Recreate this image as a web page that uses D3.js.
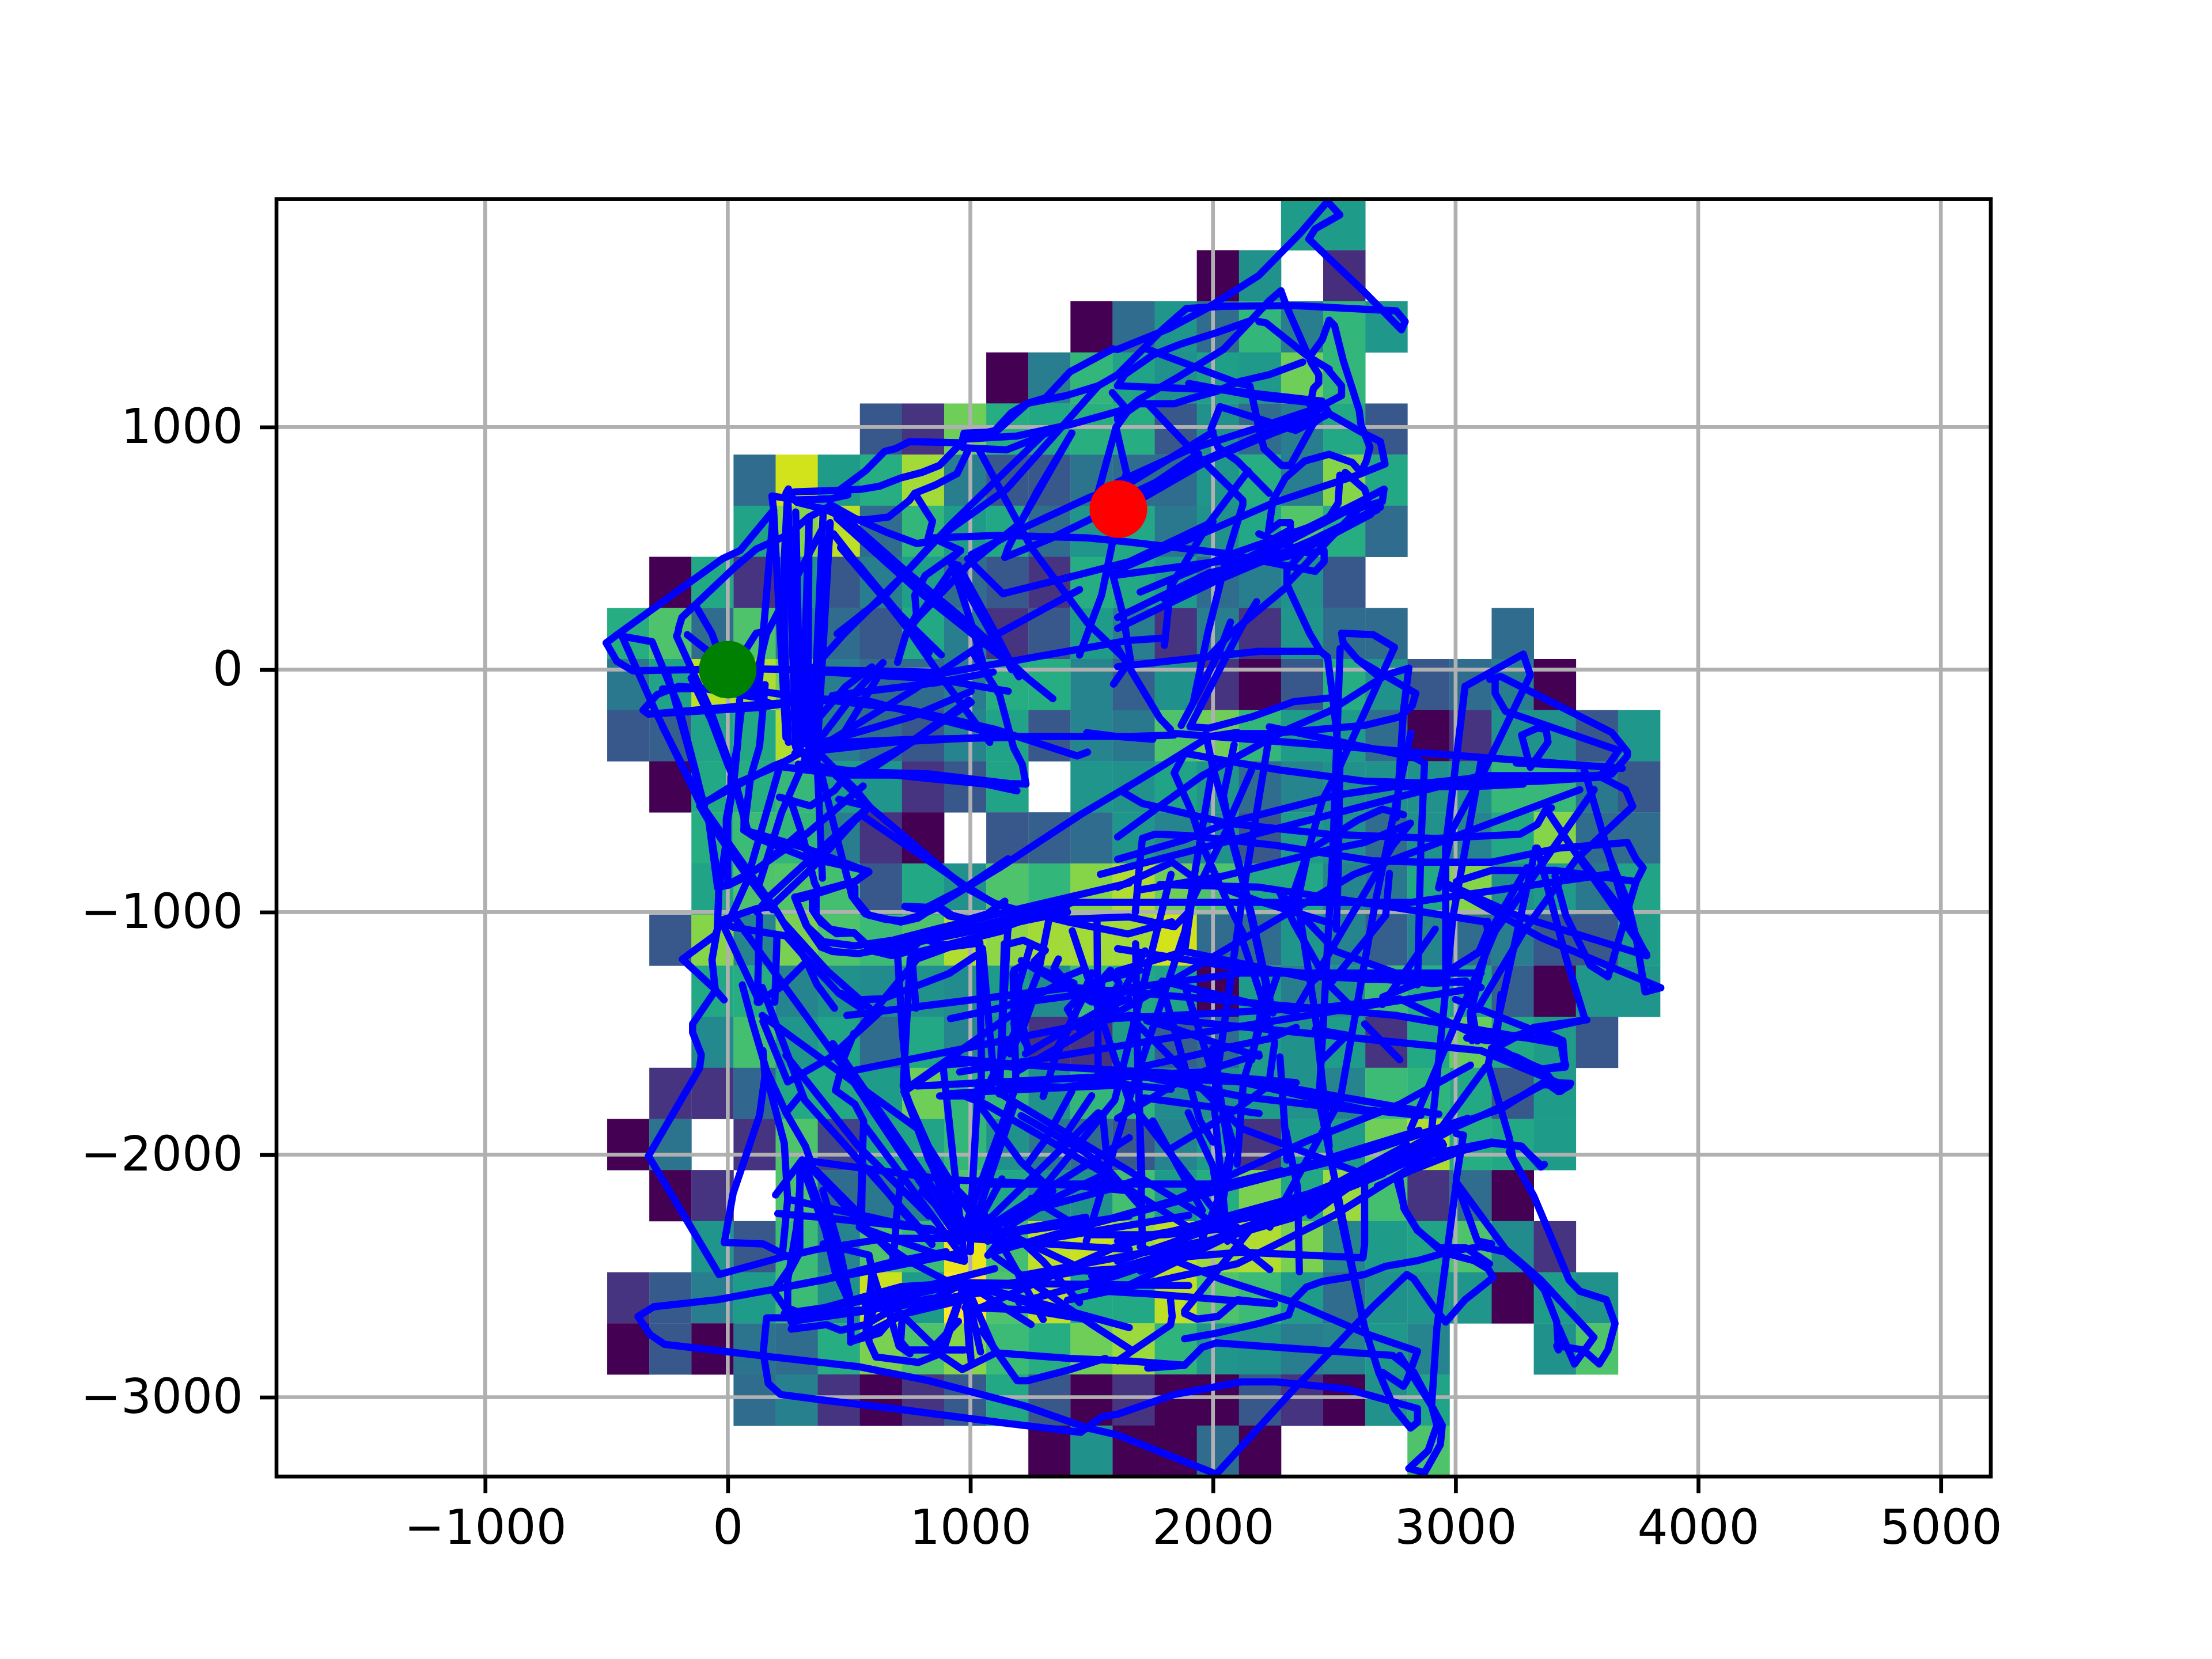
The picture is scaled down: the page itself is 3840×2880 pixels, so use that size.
<!DOCTYPE html>
<html><head><meta charset="utf-8">
<style>html,body{margin:0;padding:0;background:#fff}svg{display:block}text{font-family:"DejaVu Sans";}</style>
<script src="https://cdn.jsdelivr.net/npm/d3@7"></script></head>
<body><svg id="c" width="3840" height="2880"></svg>
<script>
const _ = null;
const xTicks = [-1000,0,1000,2000,3000,4000,5000];
const yTicks = [-3000,-2000,-1000,0,1000];
const xDomain = [-1860,5206];
const yDomain = [-3327,1940];
const gridX0 = -497, gridXStep = 173.6, gridYTop = 1940, gridYStep = 210.7;
const startPoint = [0,0];
const endPoint = [1610,662];
const cellRows = [
[_,_,_,_,_,_,_,_,_,_,_,_,_,_,_,_,55,55,_,_,_,_,_,_,_],
[_,_,_,_,_,_,_,_,_,_,_,_,_,_,0,50,_,13,_,_,_,_,_,_,_],
[_,_,_,_,_,_,_,_,_,_,_,0,35,52,35,66,42,66,53,_,_,_,_,_,_],
[_,_,_,_,_,_,_,_,_,0,42,66,58,50,56,54,78,66,_,_,_,_,_,_,_],
[_,_,_,_,_,_,27,15,78,62,60,63,62,27,50,35,42,60,27,_,_,_,_,_,_],
[_,_,_,35,93,55,62,86,42,27,27,38,35,35,52,62,42,82,60,_,_,_,_,_,_],
[_,_,_,58,82,90,35,66,55,60,35,52,60,40,50,60,73,62,35,_,_,_,_,_,_],
[_,0,60,15,50,27,42,56,35,27,15,62,60,55,35,42,50,27,_,_,_,_,_,_,_],
[62,72,35,72,42,35,27,60,42,15,27,55,42,15,42,15,52,35,35,_,_,35,_,_,_],
[40,58,90,88,78,42,35,35,42,62,62,45,30,50,15,0,27,62,50,27,35,42,0,_,_],
[27,30,58,60,88,42,35,27,45,58,27,45,40,72,78,66,55,55,35,0,15,50,50,27,53],
[_,0,60,62,67,55,52,15,27,58,_,52,50,58,52,35,45,50,50,50,50,67,67,40,27],
[_,_,62,68,66,42,15,0,_,27,30,35,52,45,50,27,55,50,35,50,45,60,82,35,35],
[_,_,58,72,73,70,27,60,50,72,66,82,88,78,72,60,60,45,40,60,82,50,55,40,58],
[_,27,82,45,80,72,68,72,88,83,86,86,86,93,35,35,52,45,30,45,35,42,27,27,55],
[_,_,60,62,45,50,48,50,48,55,48,68,60,58,0,55,42,50,68,62,58,30,0,52,52],
[_,_,47,70,52,58,35,60,45,50,15,15,55,30,35,55,50,55,15,60,77,60,55,27,_],
[_,15,15,33,60,60,55,78,66,66,50,66,65,48,50,55,50,45,68,65,60,27,55,_,_],
[0,38,_,15,72,20,58,58,66,50,40,35,27,45,55,15,55,55,78,88,62,60,55,_,_],
[_,0,15,_,72,35,40,45,72,60,50,50,70,55,62,80,60,85,70,15,35,0,_,_,_],
[_,_,52,27,68,45,72,68,97,70,90,92,85,90,85,88,80,45,55,58,72,48,15,_,_],
[15,28,42,55,68,50,92,55,100,72,90,60,60,90,72,68,55,35,50,52,52,0,55,50,_],
[0,27,0,38,35,62,80,72,82,68,62,78,85,65,52,50,42,45,53,45,_,_,50,72,_],
[_,_,_,35,43,15,0,15,28,60,27,0,15,0,0,27,15,0,50,58,_,_,_,_,_],
[_,_,_,_,_,_,_,_,_,_,0,50,0,0,35,0,_,_,_,72,_,_,_,_,_]
];
const trackTop = [
[[1607,1320],[1818,1406],[1971,1487],[2189,1625],[2363,1803],[2472,1930],[2523,1875],[2421,1817],[2395,1775],[2625,1556],[2777,1401],[2792,1435],[2756,1479],[2334,1501],[2043,1498],[1891,1489],[1796,1406],[1716,1326],[1607,1216],[1527,1170],[1396,1130],[1236,1098],[1105,980],[974,975],[967,945],[945,917],[873,842],[800,813],[713,790],[625,756],[553,744],[451,739],[284,733],[240,727],[250,745]],
[[1607,1320],[1587,1322],[1411,1228],[1310,1120],[1236,1098],[1170,1060],[1100,985],[970,958]],
[[970,950],[1192,963],[1324,992],[1411,1010],[1655,1078]],
[[970,935],[749,940],[691,911],[647,900],[567,819],[451,733]],
[[970,915],[1149,906],[1251,946],[1324,980]],
[[989,900],[945,808],[858,762],[771,727],[749,698],[662,629],[567,618],[495,618],[405,660],[285,690],[247,725]],
[[422,681],[524,624],[655,566],[778,520],[822,526],[844,612],[814,658],[771,727]],
[[-501,110],[-450,148],[-22,457],[51,491],[189,658],[182,716],[280,700],[422,704],[495,720]],
[[-203,169],[-189,215],[29,422],[117,497],[247,555],[335,629],[422,675]],
[[247,733],[233,457],[233,148],[250,-300]],
[[189,658],[146,148],[125,-120]],
[[335,629],[320,148],[310,-200]],
[[422,606],[393,148],[330,-200]],
[[400,600],[160,148],[105,-80]],
[[422,680],[742,399],[1018,169],[1230,-30]],
[[450,625],[790,320],[1105,70],[1340,-120]],
[[436,560],[757,148],[880,-30],[1080,-300]],
[[-131,261],[-65,148],[-20,20]],
[[844,543],[1120,554],[1483,543],[1655,526],[2043,480],[2421,405],[2458,445],[2458,491],[2392,480],[2189,560]],
[[844,543],[960,491],[913,450],[1062,192],[1200,-30]],
[[1004,474],[1193,572],[1491,710],[1655,768],[1870,900],[2000,980]],
[[1142,463],[1156,503],[1207,606],[1280,744],[1418,975]],
[[1142,463],[1323,537],[1655,698],[1850,830],[1940,890]],
[[989,457],[1134,313],[1411,382],[1655,445],[2000,610]],
[[1033,911],[1251,503],[1483,192],[1640,40]],
[[1585,1142],[1650,1067],[1600,998],[1527,733]],
[[1600,998],[1643,813],[1620,700]],
[[1585,520],[1541,307],[1498,192],[1450,60]],
[[1585,399],[1629,227],[1660,40],[1590,-60]],
[[1324,992],[916,595],[756,422],[480,148],[285,-70]],
[[1527,1170],[1149,744],[858,537],[640,296],[451,148]],
[[1418,975],[1207,606],[989,430],[771,200]],
[[960,491],[814,388],[771,307],[778,227],[735,148],[700,30]],
[[938,434],[1062,192],[1170,0]],
[[950,430],[1105,148],[1180,0]],
[[925,434],[1003,192],[1060,0]],
[[938,434],[800,238],[735,148]],
[[538,434],[756,169],[830,70]],
[[465,503],[655,280],[880,60]],
[[1716,1326],[2101,1182],[2152,1170],[2189,998],[2210,911],[2283,842],[2319,842],[2414,1015],[2472,1061]],
[[2472,1239],[2530,1170],[2530,1130],[2465,1096],[2220,1120],[1900,1180]],
[[1607,1170],[2043,1153],[2450,1107],[2479,1055],[2610,980],[2690,940],[2709,848],[2596,802],[2247,687],[2094,620],[1607,410]],
[[2399,1291],[2450,1360],[2479,1441],[2501,1418],[2537,1274],[2574,1159],[2603,1067],[2610,1009],[2647,917],[2632,860],[2610,813],[2574,854],[2479,888],[2378,860],[2298,790],[2247,698],[2229,572],[2276,606],[2319,606],[2319,577],[2203,514]],
[[2280,1562],[2232,1521],[2152,1435],[2043,1320],[1854,1205],[1694,1113],[1607,1040]],
[[2280,1562],[2305,1493],[2407,1262],[2436,1216],[2436,1182],[2414,1159],[2400,1090]],
[[2189,1435],[2218,1430],[2392,1291],[2479,1239]],
[[2145,1435],[2014,1389],[1869,1343],[1752,1297],[1636,1216],[1607,1170]],
[[2370,1268],[2232,1216],[2109,1188],[2014,1147],[1912,1119],[1840,1096],[1694,1096],[1636,1055],[1607,1030]],
[[2029,1084],[1992,992],[2021,917],[2101,860],[2232,727]],
[[2029,1084],[2341,986],[2479,1055]],
[[1731,1096],[1912,906],[2123,698],[2123,680],[2058,468],[1978,148],[1920,-130]],
[[2145,819],[1985,606],[1825,342],[1800,100]],
[[1607,773],[1898,906],[2189,998],[2465,1090]],
[[1607,698],[1927,848],[2189,963],[2450,1080]],
[[1694,698],[1985,865],[2247,975],[2436,1045]],
[[2523,802],[2516,687],[2479,629],[2436,601],[2087,480],[1700,320]],
[[2545,813],[2625,744],[2639,704],[2479,537],[2305,353],[2319,320],[2399,148],[2443,75]],
[[2705,744],[2698,693],[2537,647],[2200,470],[1607,390]],
[[2705,744],[2596,687],[2300,540],[1800,290]],
[[2676,658],[2465,560],[2392,509],[2305,411],[2305,342],[2072,148],[1990,60]],
[[1607,215],[1985,399],[2334,473],[2650,640]],
[[1607,170],[2000,360],[2400,530],[2690,670]]
];
const trackMiddle = [
[[-501,110],[-458,35],[-392,-5],[-145,0],[0,5],[582,-5],[902,-12],[1200,40],[1650,120],[1800,130]],
[[-436,138],[-312,115],[-203,-149],[-131,-426],[-102,-552]],
[[-436,138],[-298,-172],[-109,-564],[-80,-610],[-36,-886],[-43,-1070],[-65,-1197],[-51,-1323],[-145,-1461],[-145,-1496],[-109,-1588],[-116,-1643],[-327,-2005],[-36,-2494],[233,-2420],[247,-2419]],
[[-349,-167],[-291,-103],[-203,-69],[-116,-75],[117,-115],[175,-140]],
[[-349,-167],[-327,-184],[124,-144],[422,-126],[756,-167],[1105,-247],[1440,-356],[1483,-340]],
[[-203,161],[-211,138],[-72,-167],[0,-368],[44,-529],[80,-656]],
[[-167,144],[-80,75]],
[[73,81],[117,150],[160,160]],
[[58,-149],[44,-265],[29,-426],[0,-621],[0,-886],[131,-817],[291,-679]],
[[-102,-552],[189,-397],[233,-380],[306,-340]],
[[66,-661],[320,-736],[582,-834],[524,-874],[306,-944],[277,-938],[327,-1059],[393,-1122],[524,-1139],[684,-1115],[858,-1070],[1142,-1000],[1655,-880]],
[[524,-897],[524,-943],[582,-1013],[713,-1041],[785,-1024],[873,-966],[1120,-817],[1454,-598],[1655,-479]],
[[734,-978],[807,-995],[873,-978],[924,-1013],[989,-1030],[1062,-1013],[1142,-955]],
[[364,-938],[364,-1013],[422,-1070],[524,-1088],[604,-1162],[676,-1179],[749,-1162],[807,-1105],[902,-1145],[1033,-1128]],
[[604,-1150],[829,-1105],[1120,-1036],[1411,-955]],
[[582,-564],[975,-897],[1105,-966],[1193,-990],[1400,-1040],[1650,-1090],[1830,-1040]],
[[582,-564],[495,-483],[422,-414],[291,-390]],
[[582,-564],[451,-679],[175,-932],[120,-1000]],
[[1192,-500],[1062,-472],[829,-449],[480,-414],[306,-390]],
[[1229,-472],[1214,-391],[1178,-322],[1120,-103],[1018,57]],
[[277,-345],[684,-299],[1120,-276],[1655,-276],[1840,-270]],
[[1229,-472],[1160,-470],[829,-430],[480,-420]],
[[375,-322],[771,-80],[1100,140],[1450,330]],
[[2530,150],[2661,144],[2748,92],[2690,-34],[2596,41],[2537,110],[2530,150]],
[[2690,-34],[2516,-414],[2450,-541],[2392,-748],[2349,-955],[2421,-1416],[2436,-1560]],
[[1607,12],[1970,52],[2189,75],[2443,75],[2472,52],[2494,-115],[2523,-391],[2516,-840],[2508,-1070]],
[[2501,-115],[2334,-132],[2159,-195],[1985,-241],[1905,-236],[2116,173],[2180,280]],
[[1869,-230],[1912,-149],[2029,81],[2072,196]],
[[1825,-247],[1781,-201],[1600,100]],
[[1752,-287],[1607,-276],[1480,-260]],
[[2596,41],[2836,-98],[2821,-149],[2770,-195],[2625,-230],[2232,-264],[2101,-264]],
[[2807,6],[2785,-172],[2756,-610]],
[[2807,6],[2712,-23],[2479,-172],[2305,-247],[1956,-437],[1796,-552],[1607,-690]],
[[2232,-236],[2828,-362],[2872,-385],[2857,-725],[2843,-1300]],
[[3039,-69],[3279,64],[3308,-23],[3119,-414],[2988,-656],[2930,-900]],
[[3039,-69],[2996,-426],[2959,-725],[2959,-1300]],
[[3141,-40],[3185,-28],[3643,-259],[3708,-339],[3708,-356],[3643,-431],[3439,-449],[3148,-440],[2860,-470]],
[[3163,-40],[3163,-98],[3206,-172],[3672,-333],[3599,-437]],
[[3272,-270],[3337,-241],[3373,-247],[3381,-299],[3308,-403],[3272,-270]],
[[3250,-385],[3526,-397],[3701,-1001]],
[[3599,-443],[3701,-495],[3730,-564],[3497,-782],[3280,-1080],[3090,-1400]],
[[1629,-495],[1781,-403],[1985,-276],[2101,-259]],
[[1629,-505],[1709,-552],[1811,-575],[2058,-633],[2479,-679],[2916,-696],[3265,-679],[3337,-638],[3373,-575],[3395,-570]],
[[1883,-345],[2043,-374],[2276,-414],[2625,-460],[3003,-472],[3352,-460],[3599,-443]],
[[1883,-345],[1840,-426],[1912,-587],[1956,-725],[2058,-955],[2130,-1100]],
[[1709,-696],[1760,-679],[1898,-684],[2261,-725],[2654,-788],[2857,-794],[3148,-794],[3425,-736],[3708,-713],[3744,-782],[3773,-817],[3744,-874],[3410,-828],[3148,-828],[3003,-874]],
[[1709,-696],[1694,-840],[1680,-1001]],
[[1607,-782],[1883,-702],[2058,-633],[2508,-518],[2741,-483],[3061,-483],[3279,-472]],
[[1832,-794],[1607,-897]],
[[1832,-794],[1919,-857],[2189,-955],[2500,-1050]],
[[2785,-598],[2698,-575],[2596,-621],[2392,-748],[2320,-955]],
[[2814,-633],[2625,-713],[2479,-742],[2043,-851],[1694,-909]],
[[2814,-633],[2741,-725],[2537,-1070],[2334,-1416]],
[[2727,-840],[2712,-1013],[2479,-1300]],
[[2945,-875],[3250,-1013],[3788,-1180],[3730,-1070],[3657,-955],[3512,-771]],
[[3373,-575],[3497,-759],[3715,-1070],[3788,-1175]],
[[2974,-897],[3352,-1105],[3846,-1312],[3781,-1329],[3744,-1105],[3708,-955],[3607,-702]],
[[3628,-1266],[3555,-1220],[3454,-1013],[3410,-851]],
[[3628,-1266],[3686,-1070],[3744,-874]],
[[3534,-1444],[3454,-1185],[3337,-736]],
[[3534,-1444],[3148,-1531],[3046,-1519]],
[[3330,-736],[3206,-1300],[3163,-1496]],
[[3294,-817],[3148,-1070],[3061,-1416],[3068,-1530]],
[[3000,-1360],[3432,-1531],[3446,-1609],[3454,-1631],[3352,-1648],[3250,-1597],[3148,-1562]],
[[2058,-633],[2130,-897],[2218,-1300],[2160,-1609]],
[[1970,-264],[1999,-403],[2065,-633],[2160,-1013],[2247,-1416]],
[[2087,-310],[2043,-518],[2065,-644],[1985,-805],[1912,-955],[1883,-1162]],
[[2159,-414],[2058,-644]],
[[2276,-920],[2334,-1047],[2479,-1300],[2596,-1416]],
[[2276,-920],[2508,-1162],[2857,-1289],[3046,-1289],[3090,-1531]],
[[3126,-1041],[2770,-984],[2189,-897],[1781,-886]],
[[3126,-1041],[3134,-1082],[3097,-1162],[2916,-1277],[2625,-1277],[2043,-1220],[1607,-1151]],
[[1607,-1243],[1883,-1162],[2421,-1277]],
[[1607,-1438],[2465,-1392],[2770,-1358],[3061,-1496],[3425,-1531]],
[[2421,-1484],[2552,-1507],[2450,-1609]],
[[2698,-1381],[2916,-1070]],
[[2625,-1461],[2770,-1609]],
[[1700,-1240],[1500,-1290],[1400,-1400],[1460,-1500],[1600,-1380],[1720,-1160]],
[[1395,-980],[1380,-1030],[1655,-1020],[1840,-1060],[1900,-1000]],
[[1250,-1130],[1200,-1300],[1180,-1460],[1240,-1560]],
[[1210,-1200],[1260,-1230],[1500,-1370],[1700,-1300]],
[[1500,-1250],[1420,-1450],[1350,-1600],[1300,-1760]],
[[1330,-1000],[1280,-1250],[1180,-1500],[1070,-1720]],
[[700,-1180],[720,-1500],[740,-1700]],
[[1050,-1150],[1080,-1500],[1100,-1700]],
[[1140,-1130],[1130,-1480],[1120,-1750]]
];
const trackBottom = [
[[3475,-1706],[3366,-1700],[3192,-1809],[2945,-1896],[2690,-2040],[2400,-2250]],
[[3468,-1717],[3424,-1740],[3366,-1700]],
[[3366,-2040],[3352,-2051],[3272,-1965],[3148,-1948],[2945,-1988],[2625,-2070],[2300,-2200]],
[[3221,-1988],[3323,-2172],[3468,-2517],[3512,-2563],[3621,-2598],[3657,-2696],[3628,-2805],[3592,-2863],[3526,-2805],[3417,-2788],[3424,-2805],[3417,-2690],[3366,-2558],[3279,-2460],[3206,-2402],[3105,-2379],[3032,-2390],[2945,-2408],[2843,-2437],[2712,-2460],[2625,-2494],[2450,-2523],[2385,-2546],[2334,-2598],[2312,-2661],[2189,-2696],[2014,-2736],[1883,-2759]],
[[3148,-1562],[3134,-1631],[3221,-1930],[3235,-2010]],
[[3003,-2114],[3206,-2390],[3352,-2517],[3570,-2753],[3490,-2863],[3425,-2713]],
[[3003,-2114],[3090,-2356],[3148,-2368]],
[[3003,-2114],[2923,-2713],[2901,-3035],[2945,-3116],[2937,-3196],[2872,-3311],[2807,-3294],[2887,-3220],[2923,-3116],[2901,-3035],[2770,-2828]],
[[3003,-2100],[3032,-1919],[3003,-1913]],
[[2755,-2091],[2792,-2230],[2843,-2310],[2945,-2402],[3076,-2437],[3134,-2471],[3155,-2506],[3039,-2598],[2959,-2690],[2908,-2627],[2828,-2512],[2799,-2494],[2654,-2632],[2479,-2817],[2334,-2966],[2014,-3317]],
[[2014,-3317],[1607,-3156],[1483,-3127],[1221,-3035],[829,-2932],[538,-2874],[131,-2828],[-261,-2782],[-320,-2742],[-370,-2667],[-305,-2627],[-43,-2598],[175,-2558],[393,-2517],[654,-2448],[900,-2400]],
[[1607,-3070],[1840,-2989],[2116,-2937],[2261,-2937],[2552,-2966],[2843,-3047],[2843,-3104],[2814,-3127],[2748,-3047],[2683,-2897],[2625,-2713],[2537,-2310],[2494,-2114]],
[[1607,-3070],[1542,-3081],[1454,-3145],[1120,-3104],[684,-3047],[393,-3012],[218,-2989],[167,-2943],[146,-2817],[160,-2673],[247,-2673],[684,-2627],[1100,-2560]],
[[1731,-2880],[1883,-2868],[1956,-2794],[2014,-2776],[2334,-2799],[2741,-2828],[2828,-2897],[2901,-3035]],
[[2843,-2811],[2625,-2736],[2334,-2610],[2043,-2517],[1700,-2380]],
[[2843,-2811],[2799,-2932],[2785,-2955],[2698,-2897]],
[[1883,-2655],[1934,-2678],[2021,-2667],[2101,-2598],[2254,-2615],[1752,-2575],[1500,-2560]],
[[1883,-2645],[2014,-2483],[2200,-2250]],
[[1607,-2850],[1825,-2702],[1832,-2667],[1825,-2598]],
[[2625,-2114],[2625,-2368],[2618,-2425],[2116,-2402],[1900,-2420]],
[[2356,-2483],[2349,-2137],[2300,-1900]],
[[-14,-2362],[22,-2160],[131,-1838],[153,-1677],[145,-1570]],
[[-14,-2362],[146,-2368],[247,-2419],[364,-2391],[654,-2345],[975,-2345]],
[[197,-2166],[306,-2022],[902,-2103],[1411,-2126],[1655,-2149]],
[[240,-1827],[160,-1654],[100,-1450],[60,-1300]],
[[240,-1827],[320,-1965],[356,-2068],[509,-2241],[720,-2450]],
[[225,-2413],[247,-2184],[233,-1953],[160,-1677]],
[[306,-2022],[284,-2299],[247,-2517],[247,-2632],[306,-2655],[684,-2575],[1100,-2470]],
[[306,-2045],[451,-2448],[502,-2575],[509,-2770],[625,-2736],[684,-2667],[829,-2632],[975,-2598]],
[[320,-2045],[393,-2253],[495,-2575]],
[[262,-2719],[407,-2701],[465,-2724],[567,-2701],[669,-2644],[800,-2560]],
[[247,-2419],[276,-2437],[189,-2563],[276,-2690],[262,-2719]],
[[611,-2834],[582,-2771],[582,-2690],[625,-2575],[596,-2483],[582,-2414],[393,-2368]],
[[611,-2834],[786,-2857],[873,-2822],[967,-2886],[1105,-2817],[1411,-2840],[1655,-2851],[1883,-2868]],
[[1047,-2725],[1193,-2932],[1236,-2932],[1411,-2886],[1556,-2840]],
[[720,-2655],[713,-2770],[742,-2805],[975,-2805]],
[[545,-2299],[560,-1861],[524,-1792],[444,-1735],[480,-1597],[520,-1500]],
[[545,-2299],[873,-2414],[975,-2440]],
[[306,-1746],[240,-1827]],
[[145,-1450],[247,-1700],[421,-1600],[640,-1400]],
[[240,-1590],[538,-1965],[829,-2253]],
[[727,-1740],[887,-1631],[1000,-1620],[1180,-1640]],
[[727,-1740],[829,-2022],[1004,-2207],[1000,-2400]],
[[873,-1758],[975,-1758],[1062,-1792],[1324,-1942],[1556,-2080],[1900,-2300]],
[[1120,-1706],[1382,-1723],[1655,-1677],[2116,-1700],[2625,-1815],[2857,-1838]],
[[1680,-1671],[2116,-1760],[2625,-1820]],
[[1825,-2195],[2392,-1942],[2770,-1792],[3061,-1631]],
[[1607,-1850],[1898,-1677],[2189,-1585]],
[[1694,-1677],[1709,-2368]],
[[2305,-2022],[2276,-1597]],
[[2479,-1965],[2436,-1562]],
[[1999,-1562],[2072,-2022],[2029,-2253]],
[[1898,-1827],[1999,-2045],[2021,-2184],[1956,-2345]],
[[1752,-1861],[1956,-2230]],
[[1607,-2356],[2200,-2250],[2945,-1950]],
[[1607,-2440],[2300,-2200],[2900,-1960]],
[[1500,-2500],[2330,-2260],[2980,-1900]],
[[1400,-2600],[2100,-2450],[2500,-2250],[2900,-2000]],
[[1607,-2560],[2450,-2150],[2800,-1960]],
[[1700,-2480],[2650,-2100],[2950,-1960]],
[[1450,-2300],[2200,-2100],[2850,-1900]],
[[1100,-2400],[1800,-2200],[2600,-2000],[3050,-1850]],
[[1200,-2500],[2000,-2350],[2700,-2080]],
[[1000,-2650],[1600,-2380],[2400,-2160]]
];
const hubSpokes = [
[[975,-2430],[887,-1631]],[[996,-2346],[727,-1740]],[[975,-2430],[567,-1884]],[[996,-2346],[1033,-1700]],[[996,-2346],[1178,-1804]],[[996,-2346],[1527,-1827]],[[996,-2346],[1556,-2080]],[[996,-2346],[1655,-1930]],[[996,-2346],[247,-2184]],[[978,-2528],[567,-2621]],[[978,-2528],[509,-2770]],[[978,-2528],[873,-2817]],[[978,-2528],[1004,-2863]],[[978,-2528],[1105,-2817]],[[978,-2528],[1411,-2667]],[[978,-2528],[1655,-2713]],[[996,-2346],[1655,-2391]],[[996,-2346],[1655,-2253]],[[996,-2346],[1476,-2258]],[[996,-2346],[829,-2022]],[[978,-2528],[1250,-2700]],[[978,-2528],[1900,-2540]],[[996,-2346],[800,-2150]],[[996,-2346],[1130,-2100]],[[996,-2346],[1340,-2150]],[[978,-2528],[897,-2782]],[[978,-2528],[996,-2813]],[[978,-2528],[1042,-2813]]
];
const trackFan = [
[[-187,-1194],[-51,-1094],[-28,-1034],[120,-985],[176,-980],[358,-807],[521,-626],[585,-566],[530,-498],[367,-335]],
[[-187,-1194],[-55,-1316],[-15,-1362]],
[[67,-662],[108,-689],[312,-771],[576,-830],[531,-871],[367,-916],[276,-939],[322,-1053],[385,-1144],[431,-1162],[540,-1171],[800,-1120],[1400,-1000]],
[[-42,-898],[3,-889],[76,-853],[167,-789],[322,-680],[558,-480]],
[[-115,-562],[31,-471],[203,-398],[485,-435],[730,-435],[1156,-480]],
[[213,-526],[340,-562],[440,-498],[476,-453]],
[[458,-535],[585,-566]],
[[549,-598],[976,-889],[1094,-962],[1156,-980]],
[[1156,-780],[976,-900],[821,-980],[730,-976],[785,-987],[866,-980],[912,-1016],[994,-1030],[1103,-998]],
[[503,-898],[512,-935],[567,-1007],[649,-1030],[717,-1035],[785,-1016],[866,-980]],
[[349,-935],[349,-990],[385,-1044],[449,-1089],[521,-1085],[585,-1153],[676,-1171],[740,-1153],[803,-1107],[876,-1135],[1039,-1126]],
[[-115,-562],[-78,-625],[-42,-898]],
[[-151,-35],[-69,-207],[3,-398],[31,-462],[67,-598],[67,-662]],
[[49,-126],[40,-316],[13,-444],[13,-516],[-6,-616],[-6,-707],[-32,-880]],
[[-251,-7],[-96,-562]],
[[-269,-235],[-105,-553]],
[[154,-62],[131,-316],[94,-444],[67,-662]],
[[212,-407],[131,-689],[76,-880],[-6,-1062]],
[[322,-362],[222,-589],[131,-880]],
[[258,-535],[312,-698],[358,-880],[367,-898]],
[[367,-353],[385,-744],[390,-860]],
[[385,-426],[458,-725],[503,-898]],
[[-105,-562],[203,-998],[322,-1198],[367,-1298],[440,-1396]],
[[-78,-625],[49,-807],[185,-990]],
[[-15,-1062],[131,-1371]],
[[131,-1016],[122,-1371]],
[[203,-1098],[194,-1371]],
[[-28,-1034],[22,-1062],[240,-1098],[313,-1180],[458,-1335],[550,-1396]],
[[231,-1044],[412,-1244],[585,-1396]],
[[312,-1216],[222,-1307],[122,-1371]],
[[758,-1171],[776,-1396]],
[[467,-1335],[531,-1362],[640,-1357],[912,-1253],[1021,-1180]],
[[1156,-1071],[758,-1171]],
[[1039,-1126],[1048,-1396]],
[[-269,-180],[122,-157],[367,-121],[567,-126],[758,-176],[1094,-262]],
[[-269,-80],[49,-76],[312,-116]],
[[349,-7],[867,-39],[1048,-71],[1156,-89]],
[[431,-107],[867,-53],[1094,-10]],
[[276,-307],[730,-289],[1156,-280]],
[[367,-307],[758,-194],[1003,-89]],
[[531,-416],[730,-316],[994,-126]],
[[570,-425],[750,-305],[1003,-135]],
[[385,-280],[530,-89],[640,29]],
[[467,-280],[621,-26]],
[[321,-262],[485,-71],[594,11]],
[[189,658],[240,-280]],[[247,733],[280,-320]],[[280,650],[300,-280]],[[335,629],[330,-300]],[[393,640],[350,-320]],[[422,600],[370,-310]],
[[300,-200],[340,-340],[365,-420]],[[270,-180],[300,-330],[330,-380]]
];
const trackCentre = [
[[918,-1094],[1136,-1048],[1400,-1000]],
[[1154,-1075],[1136,-1403],[1127,-1621]],
[[1036,-1130],[1045,-1584],[1045,-1766]],
[[918,-1439],[1127,-1394],[1281,-1339],[1363,-1298],[1463,-1330],[1599,-1393]],
[[1181,-1239],[1227,-1212],[1427,-1293]],
[[1181,-1239],[1191,-1330],[1236,-1566]],
[[1163,-1130],[1218,-1116],[1309,-1157],[1263,-1203]],
[[1363,-1193],[1345,-1230],[1381,-1271],[1472,-1234],[1490,-1284]],
[[1581,-1357],[1536,-1330],[1545,-1275],[1577,-1239],[1613,-1293],[1581,-1357]],
[[1522,-1039],[1527,-1675]],
[[1681,-1130],[1690,-1630],[1708,-2130]],
[[918,-1602],[1218,-1630],[2008,-1675],[2343,-1703]],
[[918,-1748],[1236,-1730],[1645,-1712],[1827,-1730]],
[[1718,-1766],[1917,-1793],[2190,-1830]],
[[1418,-1739],[1309,-1939],[1236,-2039]],
[[1500,-1757],[1372,-1948]],
[[1263,-1348],[1218,-1475],[1163,-1584]],
[[1463,-1357],[1345,-1584]],
[[1227,-1584],[1427,-1466],[1554,-1393],[1654,-1357]],
[[1209,-1839],[1463,-1984],[1572,-2066],[1708,-2221]],
[[1036,-1793],[1209,-2030],[1318,-2130]],
[[1545,-1830],[1572,-2112]],
[[1699,-1639],[1908,-1593],[2063,-1557],[2235,-1521],[2343,-1475]],
[[1790,-1303],[1836,-1466],[1945,-1857],[2000,-1948]],
[[1890,-1321],[1954,-1521],[2081,-1948],[2045,-2102]],
[[1727,-1448],[1827,-1475],[2063,-1557],[2190,-1594]],
[[1790,-1284],[2190,-1384],[2343,-1412]],
[[2126,-1130],[2190,-1321],[2254,-1539],[2235,-1675]],
[[2263,-1266],[2208,-1421],[2172,-1548],[2126,-1693],[2099,-2039]],
[[1827,-1975],[2099,-1812],[2245,-1703]],
[[1082,-2121],[1736,-2121],[2054,-2121],[2281,-2066]],
[[1191,-2275],[1281,-2221],[1554,-2148],[1690,-2103]],
[[3133,-1039],[3133,-1075],[3096,-1166],[2978,-1239],[2700,-1350]],
[[3042,-1284],[3055,-1303],[3069,-1403],[3078,-1494]],
[[3042,-1284],[2905,-1294],[2678,-1275],[2406,-1266]],
[[3187,-1339],[3169,-1521]],
[[3469,-1712],[3360,-1712],[3187,-1803],[3005,-1884],[2860,-1948]],
[[3351,-2043],[3269,-1966],[3151,-1953],[3024,-1984],[2815,-2066],[2678,-2130]],
[[2769,-2093],[2787,-2221],[2842,-2312],[2933,-2384],[3042,-2384],[3140,-2450]],
[[3124,-1639],[2951,-1875],[2860,-1990]],
[[3442,-1530],[3323,-1475],[3187,-1548],[3124,-1520]],
[[3451,-1639],[3360,-1648],[3269,-1612],[3169,-1557]],
[[3442,-1530],[3451,-1639]],
[[3323,-1475],[3541,-1444]],
[[3360,-1648],[3433,-1739],[3469,-1712]],
[[297,-2069],[297,-2243],[297,-2402],[251,-2489]],
[[324,-2069],[388,-2251],[442,-2481],[479,-2560],[506,-2623],[506,-2774]],
[[360,-2061],[533,-2235],[551,-2299]],
[[392,-2148],[460,-2386],[497,-2560]],
[[556,-1990],[551,-2291]],
[[587,-2061],[715,-2228],[842,-2370]],
[[715,-2093],[697,-2243],[688,-2370],[678,-2449]],
[[206,-2243],[388,-2259],[842,-2307]],
[[542,-2299],[751,-2441],[978,-2560]],
[[597,-2465],[569,-2742]],
[[242,-2544],[660,-2465],[978,-2402]],
[[233,-2655],[397,-2631],[715,-2544],[978,-2528],[1233,-2544]],
[[260,-2687],[551,-2647],[842,-2592]],
[[978,-2631],[1233,-2639],[1478,-2679]],
[[697,-2639],[851,-2790],[951,-2687]],
[[669,-2663],[706,-2790],[751,-2821]],
[[1100,-2420],[1300,-2560],[1500,-2700],[1655,-2800]],
[[1150,-2300],[1300,-2440],[1450,-2610]],
[[1060,-2250],[1180,-2460],[1300,-2680]],
[[900,-2100],[1100,-2300],[1480,-2480]],
[[1250,-2180],[1500,-2330],[1800,-2330],[2100,-2300]],
[[1300,-2350],[1600,-2300],[1900,-2250]],
[[1050,-2550],[1450,-2480],[1800,-2460]],
[[1200,-2610],[1600,-2500],[1950,-2380]]
];
const trackOverview = [
[[752,-1717],[1246,-1368],[2118,-1251],[3105,-1251]],
[[491,-1542],[781,-1193],[1420,-960],[2815,-960],[3629,-844]],
[[752,-1193],[723,-1717],[956,-2357]],
[[1176,-1251],[1188,-1717],[956,-2357]],
[[1420,-1077],[1653,-1775],[2060,-2299]],
[[1827,-844],[1595,-1775],[1072,-2415]],
[[2002,-378],[1885,-1077],[1653,-1775],[1478,-2357]],
[[2234,-262],[2118,-960],[2002,-1775],[2060,-2357]],
[[2524,87],[2495,-727],[2437,-1775],[2611,-2648]],
[[2815,-262],[2669,-960],[2524,-1775],[2234,-2299]],
[[3571,-495],[3164,-1077],[2815,-1892]],
[[3105,-378],[2989,-1019],[2902,-1892]],
[[491,-1659],[1653,-1426],[3105,-1571],[3454,-1717]],
[[781,-1717],[1943,-1659],[2931,-1833]],
[[491,-1426],[1420,-1310],[2756,-1426],[3425,-1542]],
[[956,-1659],[3105,-1310]],
[[1188,-1659],[2582,-844],[3512,-495]],
[[1827,-262],[3687,-407]],
[[1536,-844],[3105,-437],[3629,-437]],
[[142,-1426],[781,-1892],[1072,-2357]],
[[26,-1019],[491,-1659],[956,-2357]],
[[142,-1310],[317,-1775],[840,-2357]],
[[433,-1542],[956,-2299]],
[[1653,-1426],[2118,-1892],[2582,-2066]],
[[1072,-1717],[1943,-2241],[2234,-2474]]
];
const W = 3840, H = 2880, L = 480, R = 3456, T = 345.6, B = 2563.2;
const x = d3.scaleLinear().domain(xDomain).range([L,R]);
const y = d3.scaleLinear().domain(yDomain).range([B,T]);
const colour = d3.scaleSequential(d3.interpolateViridis).domain([0,100]);
const fmt = d => String(d).replace('-', '\u2212');
const svg = d3.select('#c');
svg.append('defs').append('clipPath').attr('id','ax').append('rect').attr('x',L).attr('y',T).attr('width',R-L).attr('height',B-T);
const plot = svg.append('g').attr('clip-path','url(#ax)');
// cells
const cells = cellRows.flatMap((row,r) => row.map((v,c) => ({r,c,v}))).filter(d => d.v !== null);
plot.append('g').selectAll('rect').data(cells).join('rect')
  .attr('x', d => x(gridX0 + d.c*gridXStep))
  .attr('y', d => y(gridYTop - d.r*gridYStep))
  .attr('width', d => x(gridX0 + (d.c+1)*gridXStep) - x(gridX0 + d.c*gridXStep) + 0.4)
  .attr('height', d => y(gridYTop - (d.r+1)*gridYStep) - y(gridYTop - d.r*gridYStep) + 0.4)
  .attr('fill', d => colour(d.v));
// grid
const grid = plot.append('g').attr('stroke','#b0b0b0').attr('stroke-width',6.67);
grid.selectAll('.gx').data(xTicks).join('line').attr('x1',d=>x(d)).attr('x2',d=>x(d)).attr('y1',T).attr('y2',B);
grid.selectAll('.gy').data(yTicks).join('line').attr('class','gy').attr('y1',d=>y(d)).attr('y2',d=>y(d)).attr('x1',L).attr('x2',R);
// track
const line = d3.line().x(d=>x(d[0])).y(d=>y(d[1]));
plot.append('g').selectAll('path').data([...trackTop,...trackMiddle,...trackBottom,...hubSpokes,...trackFan,...trackCentre,...trackOverview]).join('path')
  .attr('d',line).attr('fill','none').attr('stroke','#0000ff').attr('stroke-width',12.5)
  .attr('stroke-linejoin','round').attr('stroke-linecap','round');
// markers
plot.append('circle').attr('cx',x(startPoint[0])).attr('cy',y(startPoint[1])).attr('r',50).attr('fill','#008000');
plot.append('circle').attr('cx',x(endPoint[0])).attr('cy',y(endPoint[1])).attr('r',50).attr('fill','#ff0000');
// axes
const ax = svg.append('g').attr('transform',`translate(0,${B})`).call(d3.axisBottom(x).tickValues(xTicks).tickSize(29).tickPadding(29).tickFormat(fmt));
const ay = svg.append('g').attr('transform',`translate(${L},0)`).call(d3.axisLeft(y).tickValues(yTicks).tickSize(29).tickPadding(29).tickFormat(fmt));
[ax,ay].forEach(a => {
  a.select('.domain').remove();
  a.selectAll('line').attr('stroke','#000').attr('stroke-width',6.67);
  a.selectAll('text').attr('fill','#000').style('font-family','"DejaVu Sans"').style('font-size','83.33px');
});
svg.append('rect').attr('x',L).attr('y',T).attr('width',R-L).attr('height',B-T).attr('fill','none').attr('stroke','#000').attr('stroke-width',6.67);
</script></body></html>
